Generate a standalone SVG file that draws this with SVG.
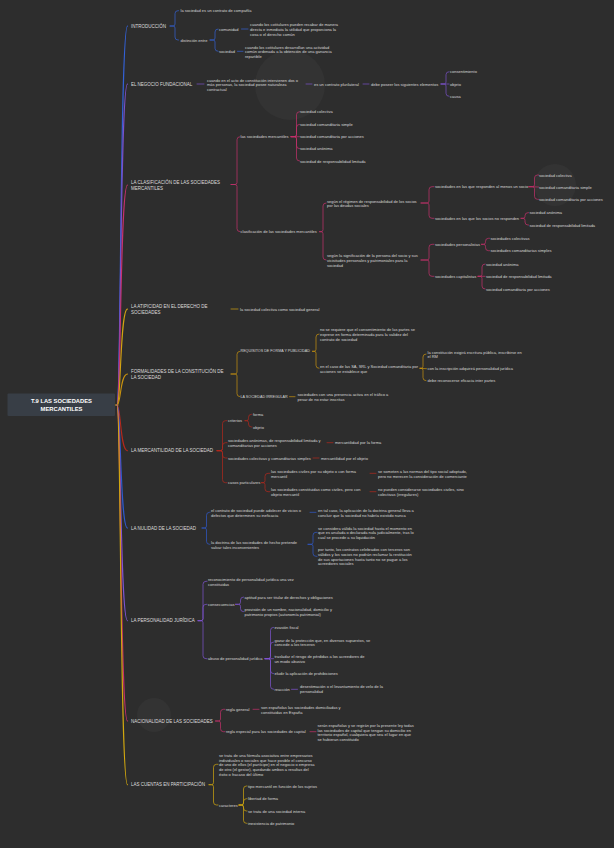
<svg xmlns="http://www.w3.org/2000/svg" width="614" height="848" viewBox="0 0 614 848">
<style>
text{font-family:"Liberation Sans",Arial,sans-serif;dominant-baseline:central}
.s{font-size:4px;fill:#d8d8d8}
.c{font-size:3.7px;fill:#d8d8d8}
.t{font-size:4.5px;fill:#dedede}
.r{font-size:5.8px;fill:#ffffff;font-weight:bold}
path{fill:none;stroke-width:0.7;stroke-linecap:round;stroke-linejoin:round}
.m{stroke-width:1.1}
.cb{stroke:#3361d6}.cp{stroke:#7a50c8}.ck{stroke:#c7316d}.cy{stroke:#d3a312}.co{stroke:#c9930f}
.cr{stroke:#b5281d}.cn{stroke:#2f5acf}.cv{stroke:#7f55d2}.ck2{stroke:#c6306b}.cy2{stroke:#d1a70f}
</style>
<rect width="614" height="848" fill="#2d2d2d"/>
<g id="deco" fill="#333333">
<circle cx="290" cy="85" r="35"/>
<circle cx="555" cy="185" r="21"/>
<circle cx="154" cy="715" r="17"/>
</g>
<g id="connectors">
<path class="m cy2" d="M115,405 L118,405"/>
<path class="m cb" d="M117,405 C121,405 120,26 127.5,26"/>
<path class="m cp" d="M117,405 C121,405 120,84 127.5,84"/>
<path class="m ck" d="M117,405 C121,405 120,185 127.5,185"/>
<path class="m cy" d="M117,405 C121,405 120,309 127.5,309"/>
<path class="m co" d="M117,405 C121,405 120,374 127.5,374"/>
<path class="m cr" d="M117,405 C121,405 120,450.7 127.5,450.7"/>
<path class="m cn" d="M117,405 C121,405 120,528 127.5,528"/>
<path class="m cv" d="M117,405 C121,405 120,620.7 127.5,620.7"/>
<path class="m ck2" d="M117,405 C121,405 120,721 127.5,721"/>
<path class="m cy2" d="M117,405 C121,405 120,784.7 127.5,784.7"/>
<path class="cb" d="M170,26 L173,26 Q175,26 175,24 L175,13.7 Q175,10.7 178,10.7 L178.5,10.7"/>
<path class="cb" d="M170,26 L173,26 Q175,26 175,28 L175,37 Q175,40 178,40 L178.5,40"/>
<path class="cb" d="M210,40 L213,40 Q215,40 215,38 L215,32 Q215,29 218,29"/>
<path class="cb" d="M210,40 L213,40 Q215,40 215,42 L215,48.3 Q215,51.3 218,51.3"/>
<path class="cb" d="M241.5,29 L248,29"/>
<path class="cb" d="M237.5,51.3 L243,51.3"/>
<path class="cp" d="M197,84 L204,84"/>
<path class="cp" d="M306,84 L312,84"/>
<path class="cp" d="M363,84 L369,84"/>
<path class="cp" d="M441,84 L444,84 Q446,84 446,82 L446,74.7 Q446,71.7 449,71.7"/>
<path class="cp" d="M441,84 L449,84"/>
<path class="cp" d="M441,84 L444,84 Q446,84 446,86 L446,93.3 Q446,96.3 449,96.3"/>
<path class="ck" d="M231,184.5 L235,184.5 Q237,184.5 237,182.5 L237,139.7 Q237,136.7 240,136.7"/>
<path class="ck" d="M231,184.5 L235,184.5 Q237,184.5 237,186.5 L237,228.7 Q237,231.7 240,231.7"/>
<path class="ck" d="M291,136.7 L294.5,136.7 Q296.5,136.7 296.5,134.7 L296.5,114.7 Q296.5,111.7 299.5,111.7"/>
<path class="ck" d="M291,136.7 L294.5,136.7 Q296.5,136.7 296.5,134.7 L296.5,127.3 Q296.5,124.3 299.5,124.3"/>
<path class="ck" d="M291,136.7 L299.5,136.7"/>
<path class="ck" d="M291,136.7 L294.5,136.7 Q296.5,136.7 296.5,138.7 L296.5,145.7 Q296.5,148.7 299.5,148.7"/>
<path class="ck" d="M291,136.7 L294.5,136.7 Q296.5,136.7 296.5,138.7 L296.5,158 Q296.5,161 299.5,161"/>
<path class="ck" d="M319.5,231.7 L321,231.7 Q323,231.7 323,229.7 L323,206 Q323,203 326,203"/>
<path class="ck" d="M319.5,231.7 L321,231.7 Q323,231.7 323,233.7 L323,257 Q323,260 326,260"/>
<path class="ck" d="M421,203 L427,203 Q429,203 429,201 L429,189.7 Q429,186.7 432,186.7 L434,186.7"/>
<path class="ck" d="M421,203 L427,203 Q429,203 429,205 L429,215.3 Q429,218.3 432,218.3 L434,218.3"/>
<path class="ck" d="M421,260 L427,260 Q429,260 429,258 L429,247.3 Q429,244.3 432,244.3 L434,244.3"/>
<path class="ck" d="M421,260 L427,260 Q429,260 429,262 L429,273.3 Q429,276.3 432,276.3 L434,276.3"/>
<path class="ck" d="M529,186.7 L532.5,186.7 Q534.5,186.7 534.5,184.7 L534.5,178 Q534.5,175 537.5,175 L538.5,175"/>
<path class="ck" d="M529,186.7 L538.5,187"/>
<path class="ck" d="M529,186.7 L532.5,186.7 Q534.5,186.7 534.5,188.7 L534.5,196.3 Q534.5,199.3 537.5,199.3 L538.5,199.3"/>
<path class="ck" d="M521,218.3 L523,218.3 Q525,218.3 525,216.3 L525,215.7 Q525,212.7 528,212.7 L528.5,212.7"/>
<path class="ck" d="M521,218.3 L523,218.3 Q525,218.3 525,220.3 L525,222 Q525,225 528,225 L528.5,225"/>
<path class="ck" d="M481.5,244.3 L483.5,244.3 Q485.5,244.3 485.5,242.3 L485.5,241.3 Q485.5,238.3 488.5,238.3 L489.5,238.3"/>
<path class="ck" d="M481.5,244.3 L483.5,244.3 Q485.5,244.3 485.5,246.3 L485.5,247.7 Q485.5,250.7 488.5,250.7 L489.5,250.7"/>
<path class="ck" d="M478,276.3 L480,276.3 Q482,276.3 482,274.3 L482,267 Q482,264 485,264"/>
<path class="ck" d="M478,276.3 L485,276.3"/>
<path class="ck" d="M478,276.3 L480,276.3 Q482,276.3 482,278.3 L482,286 Q482,289 485,289"/>
<path class="cy" d="M231,309 L238,309"/>
<path class="co" d="M231,374 L235,374 Q237,374 237,372 L237,354.3 Q237,351.3 240,351.3"/>
<path class="co" d="M231,374 L235,374 Q237,374 237,376 L237,393.7 Q237,396.7 240,396.7"/>
<path class="co" d="M312.5,351.3 L314,351.3 Q316,351.3 316,349.3 L316,337 Q316,334 319,334"/>
<path class="co" d="M312.5,351.3 L314,351.3 Q316,351.3 316,353.3 L316,365.3 Q316,368.3 319,368.3"/>
<path class="co" d="M420,368.3 L421,368.3 Q423,368.3 423,366.3 L423,357 Q423,354 426,354"/>
<path class="co" d="M420,368.3 L426.5,368.7"/>
<path class="co" d="M420,368.3 L421,368.3 Q423,368.3 423,370.3 L423,377.7 Q423,380.7 426,380.7"/>
<path class="co" d="M289.5,396.7 L295,396.7"/>
<path class="cr" d="M217,450.7 L220.5,450.7 Q222.5,450.7 222.5,448.7 L222.5,423.7 Q222.5,420.7 225.5,420.7 L227,420.7"/>
<path class="cr" d="M217,450.7 L220.5,450.7 Q222.5,450.7 222.5,448.7 L222.5,445.7 Q222.5,442.7 225.5,442.7 L227,442.7"/>
<path class="cr" d="M217,450.7 L220.5,450.7 Q222.5,450.7 222.5,452.7 L222.5,455 Q222.5,458 225.5,458 L227,458"/>
<path class="cr" d="M217,450.7 L220.5,450.7 Q222.5,450.7 222.5,452.7 L222.5,479.7 Q222.5,482.7 225.5,482.7 L227,482.7"/>
<path class="cr" d="M245,420.7 L246.5,420.7 Q248.5,420.7 248.5,418.7 L248.5,417.3 Q248.5,414.3 251.5,414.3 L252,414.3"/>
<path class="cr" d="M245,420.7 L246.5,420.7 Q248.5,420.7 248.5,422.7 L248.5,424 Q248.5,427 251.5,427 L252,427"/>
<path class="cr" d="M327,442.7 L333,442.7"/>
<path class="cr" d="M313,458 L319,458"/>
<path class="cr" d="M261.5,482.7 L263,482.7 Q265,482.7 265,480.7 L265,476.3 Q265,473.3 268,473.3 L270,473.3"/>
<path class="cr" d="M261.5,482.7 L263,482.7 Q265,482.7 265,484.7 L265,488.7 Q265,491.7 268,491.7 L270,491.7"/>
<path class="cr" d="M370,473.3 L376,473.3"/>
<path class="cr" d="M370,491.7 L376,491.7"/>
<path class="cn" d="M202,528 L204.5,528 Q206.5,528 206.5,526 L206.5,515.3 Q206.5,512.3 209.5,512.3 L210,512.3"/>
<path class="cn" d="M202,528 L204.5,528 Q206.5,528 206.5,530 L206.5,541.3 Q206.5,544.3 209.5,544.3 L210,544.3"/>
<path class="cn" d="M310,512.3 L316,512.3"/>
<path class="cn" d="M308,544.3 L311,544.3 Q313,544.3 313,542.3 L313,535.3 Q313,532.3 316,532.3 L317,532.3"/>
<path class="cn" d="M308,544.3 L311,544.3 Q313,544.3 313,546.3 L313,553.3 Q313,556.3 316,556.3 L317,556.3"/>
<path class="cv" d="M198,620.7 L201,620.7 Q203,620.7 203,618.7 L203,584.3 Q203,581.3 206,581.3 L207,581.3"/>
<path class="cv" d="M198,620.7 L201,620.7 Q203,620.7 203,618.7 L203,607.3 Q203,604.3 206,604.3 L207,604.3"/>
<path class="cv" d="M198,620.7 L201,620.7 Q203,620.7 203,622.7 L203,655.7 Q203,658.7 206,658.7 L207,658.7"/>
<path class="cv" d="M235.5,604.3 L238.5,604.3 Q240.5,604.3 240.5,602.3 L240.5,600 Q240.5,597 243.5,597"/>
<path class="cv" d="M235.5,604.3 L238.5,604.3 Q240.5,604.3 240.5,606.3 L240.5,608.7 Q240.5,611.7 243.5,611.7"/>
<path class="cv" d="M265,658.7 L268.5,658.7 Q270.5,658.7 270.5,656.7 L270.5,630.3 Q270.5,627.3 273.5,627.3"/>
<path class="cv" d="M265,658.7 L268.5,658.7 Q270.5,658.7 270.5,656.7 L270.5,645 Q270.5,642 273.5,642"/>
<path class="cv" d="M265,658.7 L273.5,658.7"/>
<path class="cv" d="M265,658.7 L268.5,658.7 Q270.5,658.7 270.5,660.7 L270.5,670.7 Q270.5,673.7 273.5,673.7"/>
<path class="cv" d="M265,658.7 L268.5,658.7 Q270.5,658.7 270.5,660.7 L270.5,686.3 Q270.5,689.3 273.5,689.3"/>
<path class="cv" d="M291.5,689.3 L297.5,689.3"/>
<path class="ck2" d="M215.5,721 L218.5,721 Q220.5,721 220.5,719 L220.5,712.3 Q220.5,709.3 223.5,709.3 L225,709.3"/>
<path class="ck2" d="M215.5,721 L218.5,721 Q220.5,721 220.5,723 L220.5,728.7 Q220.5,731.7 223.5,731.7 L225,731.7"/>
<path class="ck2" d="M253,709.3 L259,709.3"/>
<path class="ck2" d="M310,731.7 L316,731.7"/>
<path class="cy2" d="M209,784.7 L211.5,784.7 Q213.5,784.7 213.5,782.7 L213.5,767.3 Q213.5,764.3 216.5,764.3 L218,764.3"/>
<path class="cy2" d="M209,784.7 L211.5,784.7 Q213.5,784.7 213.5,786.7 L213.5,802 Q213.5,805 216.5,805 L218,805"/>
<path class="cy2" d="M239,805 L241.5,805 Q243.5,805 243.5,803 L243.5,789 Q243.5,786 246.5,786 L247,786"/>
<path class="cy2" d="M239,805 L241.5,805 Q243.5,805 243.5,803 L243.5,801.7 Q243.5,798.7 246.5,798.7 L247,798.7"/>
<path class="cy2" d="M239,805 L241.5,805 Q243.5,805 243.5,807 L243.5,808 Q243.5,811 246.5,811 L247,811"/>
<path class="cy2" d="M239,805 L241.5,805 Q243.5,805 243.5,807 L243.5,820.3 Q243.5,823.3 246.5,823.3 L247,823.3"/>
</g>
<g id="root">
<rect x="7.5" y="393.5" width="107.5" height="22.5" rx="1" fill="#383e46"/>
<text class="r" x="61.5" y="401" text-anchor="middle">T.9 LAS SOCIEDADES</text>
<text class="r" x="61.5" y="409" text-anchor="middle">MERCANTILES</text>
</g>
<g id="introduccion">
<text class="t" x="131" y="26">INTRODUCCIÓN</text>
<text class="s" x="180.5" y="10.7">la sociedad es un contrato de compañía</text>
<text class="s" x="180.5" y="40">distinción entre</text>
<text class="s" x="219" y="29">comunidad</text>
<text class="s" x="219" y="51.3">sociedad</text>
<text class="s"><tspan x="250" y="24.3">cuando los cotitulares pueden recabar de manera</tspan><tspan x="250" y="29">directa e inmediata la utilidad que proporciona la</tspan><tspan x="250" y="33.7">cosa o el derecho común</tspan></text>
<text class="s"><tspan x="245" y="46.7">cuando los cotitulares desarrollan una actividad</tspan><tspan x="245" y="51.3">común ordenada a la obtención de una ganancia</tspan><tspan x="245" y="56">repartible</tspan></text>
</g>
<g id="negocio">
<text class="t" x="131" y="84">EL NEGOCIO FUNDACIONAL</text>
<text class="s"><tspan x="207" y="79.7">cuando en el acto de constitución intervienen dos o</tspan><tspan x="207" y="84.3">más personas, la sociedad posee naturaleza</tspan><tspan x="207" y="89">contractual</tspan></text>
<text class="s" x="314" y="84">es un contrato plurilateral</text>
<text class="s" x="371" y="84">debe poseer los siguientes elementos</text>
<text class="s" x="450" y="71.7">consentimiento</text>
<text class="s" x="450" y="84">objeto</text>
<text class="s" x="450" y="96.3">causa</text>
</g>
<g id="clasificacion">
<text class="t"><tspan x="131" y="182">LA CLASIFICACIÓN DE LAS SOCIEDADES</tspan><tspan x="131" y="188">MERCANTILES</tspan></text>
<text class="s" x="240.5" y="136.7">las sociedades mercantiles</text>
<text class="s" x="300" y="111.7">sociedad colectiva</text>
<text class="s" x="300" y="124.3">sociedad comanditaria simple</text>
<text class="s" x="300" y="136.7">sociedad comanditaria por acciones</text>
<text class="s" x="300" y="148.7">sociedad anónima</text>
<text class="s" x="300" y="161">sociedad de responsabilidad limitada</text>
<text class="s" x="240.5" y="231.7">clasificación de las sociedades mercantiles</text>
<text class="s"><tspan x="327" y="200.7">según el régimen de responsabilidad de los socios</tspan><tspan x="327" y="205.3">por las deudas sociales</tspan></text>
<text class="s"><tspan x="327" y="255.3">según la significación de la persona del socio y sus</tspan><tspan x="327" y="260">vicisitudes personales y patrimoniales para la</tspan><tspan x="327" y="264.7">sociedad</tspan></text>
<text class="s" x="435" y="186.7">sociedades en las que responden al menos un socio</text>
<text class="s" x="539" y="175">sociedad colectiva</text>
<text class="s" x="539" y="187">sociedad comanditaria simple</text>
<text class="s" x="539" y="199.3">sociedad comanditaria por acciones</text>
<text class="s" x="435" y="218.3">sociedades en las que los socios no responden</text>
<text class="s" x="529.5" y="212.7">sociedad anónima</text>
<text class="s" x="529.5" y="225">sociedad de responsabilidad limitada</text>
<text class="s" x="435" y="244.3">sociedades personalistas</text>
<text class="s" x="490.5" y="238.3">sociedades colectivas</text>
<text class="s" x="490.5" y="250.7">sociedades comanditarias simples</text>
<text class="s" x="435" y="276.3">sociedades capitalistas</text>
<text class="s" x="486" y="264">sociedad anónima</text>
<text class="s" x="486" y="276.3">sociedad de responsabilidad limitada</text>
<text class="s" x="486" y="289">sociedad comanditaria por acciones</text>
</g>
<g id="atipicidad">
<text class="t"><tspan x="131" y="306">LA ATIPICIDAD EN EL DERECHO DE</tspan><tspan x="131" y="312">SOCIEDADES</tspan></text>
<text class="s" x="240" y="309">la sociedad colectiva como sociedad general</text>
</g>
<g id="formalidades">
<text class="t"><tspan x="131" y="370.7">FORMALIDADES DE LA CONSTITUCIÓN DE</tspan><tspan x="131" y="377">LA SOCIEDAD</tspan></text>
<text class="c" x="240.5" y="351.3">REQUISITOS DE FORMA Y PUBLICIDAD</text>
<text class="s"><tspan x="320" y="329.3">no se requiere que el consentimiento de las partes se</tspan><tspan x="320" y="334">exprese en forma determinada para la validez del</tspan><tspan x="320" y="338.7">contrato de sociedad</tspan></text>
<text class="s"><tspan x="320" y="366">en el caso de las SA, SRL y Sociedad comanditaria por</tspan><tspan x="320" y="370.7">acciones se establece que</tspan></text>
<text class="s"><tspan x="427.5" y="351.7">la constitución exigirá escritura pública, inscribirse en</tspan><tspan x="427.5" y="356.3">el RM</tspan></text>
<text class="s" x="427.5" y="368.7">con la inscripción adquirirá personalidad jurídica</text>
<text class="s" x="427.5" y="380.7">debe reconocerse eficacia inter partes</text>
<text class="c" x="240.5" y="396.7">LA SOCIEDAD IRREGULAR</text>
<text class="s"><tspan x="297.5" y="394.3">sociedades con una presencia activa en el tráfico a</tspan><tspan x="297.5" y="399">pesar de no estar inscritas</tspan></text>
</g>
<g id="mercantilidad">
<text class="t" x="131" y="450.7">LA MERCANTILIDAD DE LA SOCIEDAD</text>
<text class="s" x="228" y="420.7">criterios</text>
<text class="s" x="253" y="414.3">forma</text>
<text class="s" x="253" y="427">objeto</text>
<text class="s"><tspan x="228" y="440.3">sociedades anónimas, de responsabilidad limitada y</tspan><tspan x="228" y="445">comanditarias por acciones</tspan></text>
<text class="s" x="335" y="442.7">mercantilidad por la forma</text>
<text class="s" x="228" y="458">sociedades colectivas y comanditarias simples</text>
<text class="s" x="321" y="458">mercantilidad por el objeto</text>
<text class="s" x="228" y="482.7">casos particulares</text>
<text class="s"><tspan x="271" y="471">las sociedades civiles por su objeto o con forma</tspan><tspan x="271" y="475.7">mercantil</tspan></text>
<text class="s"><tspan x="378" y="471">se someten a las normas del tipo social adoptado,</tspan><tspan x="378" y="475.7">pero no merecen la consideración de comerciante</tspan></text>
<text class="s"><tspan x="271" y="489.3">las sociedades constituidas como civiles, pero con</tspan><tspan x="271" y="494">objeto mercantil</tspan></text>
<text class="s"><tspan x="378" y="489.3">no pueden considerarse sociedades civiles, sino</tspan><tspan x="378" y="494">colectivas (irregulares)</tspan></text>
</g>
<g id="nulidad">
<text class="t" x="131" y="528">LA NULIDAD DE LA SOCIEDAD</text>
<text class="s"><tspan x="211" y="510">el contrato de sociedad puede adolecer de vicios o</tspan><tspan x="211" y="514.7">defectos que determinen su ineficacia</tspan></text>
<text class="s"><tspan x="318" y="510">en tal caso, la aplicación de la doctrina general lleva a</tspan><tspan x="318" y="514.7">concluir que la sociedad no habría existido nunca</tspan></text>
<text class="s"><tspan x="211" y="542">la doctrina de las sociedades de hecho pretende</tspan><tspan x="211" y="546.7">salvar tales inconvenientes</tspan></text>
<text class="s"><tspan x="318" y="527.7">se considera válida la sociedad hasta el momento en</tspan><tspan x="318" y="532.3">que es anulada o declarada nula judicialmente, tras lo</tspan><tspan x="318" y="537">cual se procede a su liquidación</tspan></text>
<text class="s"><tspan x="318" y="549.3">por tanto, los contratos celebrados con terceros son</tspan><tspan x="318" y="554">válidos y los socios no podrán reclamar la restitución</tspan><tspan x="318" y="558.7">de sus aportaciones hasta tanto no se pague a los</tspan><tspan x="318" y="563.3">acreedores sociales</tspan></text>
</g>
<g id="personalidad">
<text class="t" x="131" y="620.7">LA PERSONALIDAD JURÍDICA</text>
<text class="s"><tspan x="208" y="579">reconocimiento de personalidad jurídica una vez</tspan><tspan x="208" y="583.7">constituidas</tspan></text>
<text class="s" x="208" y="604.3">consecuencias</text>
<text class="s" x="244.5" y="597">aptitud para ser titular de derechos y obligaciones</text>
<text class="s"><tspan x="244.5" y="609.3">provisión de un nombre, nacionalidad, domicilio y</tspan><tspan x="244.5" y="614">patrimonio propios (autonomía patrimonial)</tspan></text>
<text class="s" x="208" y="658.7">abuso de personalidad jurídica</text>
<text class="s" x="274.5" y="627.3">evasión fiscal</text>
<text class="s"><tspan x="274.5" y="639.7">gozar de la protección que, en diversos supuestos, se</tspan><tspan x="274.5" y="644.3">concede a los terceros</tspan></text>
<text class="s"><tspan x="274.5" y="656.3">trasladar el riesgo de pérdidas a los acreedores de</tspan><tspan x="274.5" y="661">un modo abusivo</tspan></text>
<text class="s" x="274.5" y="673.7">eludir la aplicación de prohibiciones</text>
<text class="s" x="274.5" y="689.3">reacción</text>
<text class="s"><tspan x="300" y="686.3">desestimación o el levantamiento de velo de la</tspan><tspan x="300" y="691">personalidad</tspan></text>
</g>
<g id="nacionalidad">
<text class="t" x="131" y="721">NACIONALIDAD DE LAS SOCIEDADES</text>
<text class="s" x="226" y="709.3">regla general</text>
<text class="s"><tspan x="261" y="707">son españolas las sociedades domiciliadas y</tspan><tspan x="261" y="711.7">constituidas en España</tspan></text>
<text class="s" x="226" y="731.7">regla especial para las sociedades de capital</text>
<text class="s"><tspan x="317.5" y="725">serán españolas y se regirán por la presente ley todas</tspan><tspan x="317.5" y="729.7">las sociedades de capital que tengan su domicilio en</tspan><tspan x="317.5" y="734.3">territorio español, cualquiera que sea el lugar en que</tspan><tspan x="317.5" y="739">se hubieran constituido</tspan></text>
</g>
<g id="cuentas">
<text class="t" x="131" y="784.7">LAS CUENTAS EN PARTICIPACIÓN</text>
<text class="s"><tspan x="219" y="755">se trata de una fórmula asociativa entre empresarios</tspan><tspan x="219" y="759.7">individuales o sociales que hace posible el concurso</tspan><tspan x="219" y="764.3">de uno de ellos (el partícipe) en el negocio o empresa</tspan><tspan x="219" y="769">de otro (el gestor), quedando ambos a resultas del</tspan><tspan x="219" y="773.7">éxito o fracaso del último</tspan></text>
<text class="s" x="219" y="805">caracteres</text>
<text class="s" x="248" y="786">tipo mercantil en función de los sujetos</text>
<text class="s" x="248" y="798.7">libertad de forma</text>
<text class="s" x="248" y="811">se trata de una sociedad interna</text>
<text class="s" x="248" y="823.3">inexistencia de patrimonio</text>
</g>
</svg>
